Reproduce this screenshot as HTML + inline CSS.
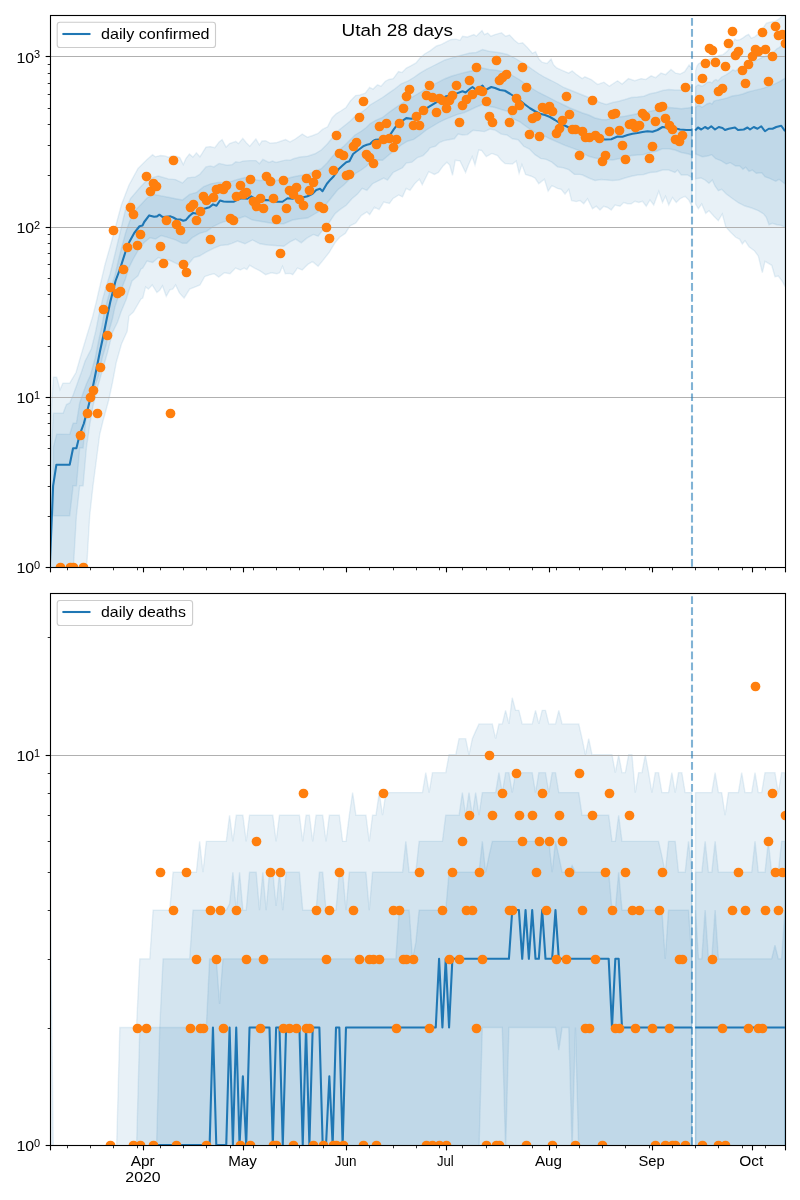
<!DOCTYPE html>
<html><head><meta charset="utf-8"><title>Utah 28 days</title>
<style>html,body{margin:0;padding:0;background:#fff}body{width:800px;height:1200px;overflow:hidden}</style></head>
<body>
<svg width="800" height="1200" viewBox="0 0 800 1200" style="display:block;font-family:'Liberation Sans',sans-serif">
<rect width="800" height="1200" fill="#fff"/>
<defs><clipPath id="ct"><rect x="50" y="15" width="735" height="552"/></clipPath><clipPath id="cb"><rect x="50" y="593" width="735" height="552"/></clipPath></defs>
<g clip-path="url(#ct)">
<polygon points="50.05,431.00 53.40,377.20 56.70,377.20 60.00,389.70 62.90,383.10 69.75,383.10 76.00,372.50 80.00,358.50 86.25,337.50 92.50,317.00 96.25,302.00 99.00,290.00 105.00,264.50 111.00,243.50 116.25,224.00 121.50,204.50 129.00,185.00 138.00,168.50 147.00,159.50 152.60,154.70 155.30,156.80 160.50,155.50 164.90,155.90 168.40,157.20 172.00,156.00 176.00,156.30 179.80,157.60 183.30,164.60 185.90,158.50 189.40,154.10 192.90,157.10 196.40,152.90 199.90,156.80 206.00,147.10 210.40,146.60 214.80,147.70 219.10,141.90 222.10,139.60 226.10,147.10 229.60,143.60 235.80,141.40 238.40,143.60 242.80,138.40 246.30,142.80 249.80,146.30 255.90,138.90 259.40,144.90 262.00,141.00 265.50,140.70 269.90,143.10 276.00,142.80 281.30,141.00 285.60,139.60 290.00,141.90 295.25,139.00 302.25,134.10 307.50,137.25 312.75,135.50 318.00,133.40 322.40,129.40 327.60,126.75 332.00,118.00 336.40,113.60 340.75,111.00 346.00,107.50 350.40,100.85 355.60,95.60 360.00,94.90 365.25,93.15 369.60,87.40 373.10,89.10 377.50,84.75 381.00,86.15 385.40,81.25 388.90,79.50 393.25,78.60 398.50,71.60 402.00,72.50 406.40,68.10 410.75,65.85 416.00,62.90 420.40,57.60 425.00,53.75 430.00,50.80 436.50,46.00 441.40,44.40 446.20,41.90 451.10,39.50 456.00,39.20 460.00,40.30 462.50,36.20 467.40,37.00 473.90,34.60 476.30,36.20 478.70,33.80 482.00,30.60 484.40,34.60 487.70,33.00 490.90,36.20 495.00,34.60 501.50,32.70 505.60,36.20 509.60,35.00 514.50,40.30 518.60,43.60 522.60,42.70 527.50,47.60 532.40,53.30 535.60,51.70 538.90,59.00 542.10,62.20 547.00,63.50 551.10,59.00 553.50,64.70 556.70,67.90 562.25,70.40 568.60,73.10 572.20,70.95 575.85,74.00 582.20,78.60 584.90,76.75 591.25,79.50 597.60,84.40 603.90,82.20 609.40,86.20 617.50,80.75 622.10,84.00 628.40,78.60 634.75,80.75 641.10,78.60 645.60,79.50 651.10,75.85 655.60,77.65 661.00,73.10 665.60,74.60 671.00,69.50 675.50,73.10 680.10,74.00 684.60,71.70 689.10,65.00 691.90,68.60 691.90,206.25 688.75,200.00 685.00,196.25 680.00,198.75 676.25,202.50 672.50,197.50 668.75,205.00 665.50,196.25 662.50,202.50 658.75,191.25 653.75,205.00 650.00,200.00 646.25,206.25 642.50,201.25 638.75,202.50 635.00,201.25 631.25,203.75 627.50,203.75 623.75,202.50 620.00,206.25 615.00,205.00 611.25,210.00 607.50,207.50 603.75,206.25 600.00,210.00 596.25,206.25 592.50,208.75 587.50,198.75 583.75,203.75 580.00,200.60 576.25,201.60 571.60,200.60 568.75,189.40 565.00,194.10 561.25,189.40 557.50,188.40 551.90,185.60 548.10,191.25 544.40,179.10 538.75,183.75 535.00,178.10 531.25,176.25 525.60,174.40 521.90,164.60 519.10,173.40 516.25,160.90 512.50,164.10 505.00,163.50 501.25,160.30 497.50,155.60 491.90,153.40 486.25,156.60 481.60,150.40 478.75,150.00 475.00,165.00 472.20,156.60 468.40,165.00 465.60,172.50 460.00,160.90 455.30,160.30 452.50,175.30 449.70,165.00 446.90,162.20 443.10,165.90 438.40,172.50 434.40,174.40 428.75,171.60 422.20,184.70 419.40,179.10 414.70,183.75 410.00,190.30 406.25,188.40 402.50,196.90 398.75,195.00 393.10,198.40 389.40,203.40 383.75,202.10 379.10,209.60 374.40,207.20 369.70,214.70 366.90,211.90 361.25,215.60 355.60,223.10 350.00,225.90 345.30,233.40 339.70,237.20 335.00,242.80 329.40,252.20 322.80,260.60 318.10,266.25 312.50,261.60 307.80,264.40 302.20,270.00 297.50,268.10 292.80,274.70 290.00,273.40 285.30,273.75 282.50,266.25 279.70,272.80 276.90,273.75 271.25,272.80 265.60,274.70 260.00,270.90 254.40,268.10 249.70,265.30 246.90,269.60 244.10,268.10 240.30,270.00 235.60,268.10 230.00,273.75 224.40,272.80 218.75,277.10 214.10,273.75 210.30,274.70 204.70,276.60 200.00,285.00 195.30,286.90 189.70,289.10 184.10,298.10 179.40,292.90 175.60,285.00 172.80,289.10 170.00,289.70 166.25,296.25 162.50,285.90 159.70,290.25 156.90,292.50 152.20,285.00 148.40,289.10 145.60,286.90 142.80,298.10 141.00,299.00 133.40,312.00 129.00,316.00 127.20,331.20 121.50,344.00 116.25,362.50 112.50,382.50 108.75,400.00 106.30,409.00 103.00,421.00 99.70,434.50 96.40,460.00 93.00,485.80 89.70,515.80 86.40,572.50 50.05,572.50" fill="#1f77b4" fill-opacity="0.1" stroke="#1f77b4" stroke-opacity="0.1" stroke-width="1.39" stroke-linejoin="miter"/>
<polygon points="50.05,469.00 53.40,413.20 63.10,413.30 66.40,404.60 69.70,403.00 73.10,395.00 76.40,386.00 81.25,372.50 85.00,361.25 91.40,348.70 95.70,331.20 98.80,315.50 102.70,298.90 106.20,286.60 110.20,273.50 114.00,258.00 119.50,235.00 125.25,210.50 130.50,198.50 139.50,188.00 147.00,180.00 154.00,177.20 158.40,176.00 168.30,178.90 175.40,179.60 182.50,183.00 187.60,177.80 195.50,176.90 199.90,174.30 206.00,166.90 210.40,165.90 213.90,166.90 219.10,163.40 227.00,165.20 232.30,164.60 235.80,161.70 239.30,162.40 242.80,161.10 249.80,160.60 255.90,160.60 259.40,163.80 262.90,159.40 269.00,162.40 272.50,161.10 276.00,162.40 281.30,161.10 286.50,159.90 290.00,160.30 293.50,158.75 300.00,157.00 307.50,156.25 315.00,153.75 321.25,150.00 327.50,143.75 332.50,137.50 337.50,131.25 343.75,126.25 350.00,121.25 355.00,116.25 361.25,112.50 366.25,108.75 370.00,105.00 376.25,101.25 382.50,97.50 388.75,93.10 395.00,88.75 401.25,83.75 407.50,81.25 413.75,77.50 420.00,73.10 426.25,69.40 432.50,66.25 438.75,63.10 445.00,60.00 451.25,58.10 457.50,56.25 463.75,54.60 470.00,53.00 476.25,52.50 482.50,49.50 488.75,51.25 495.00,52.00 501.25,53.00 507.50,54.50 513.75,57.50 520.00,61.25 526.25,65.00 532.50,69.50 538.75,73.75 545.00,77.50 551.25,80.50 557.50,83.75 563.75,87.50 570.00,90.00 576.25,92.50 582.50,95.00 588.75,97.50 595.00,100.50 601.25,102.80 606.25,104.50 612.50,102.50 618.75,101.25 625.00,99.50 631.25,97.50 637.50,97.00 643.75,96.25 650.00,93.75 656.25,92.50 662.50,90.50 668.75,89.50 675.00,90.00 681.25,90.00 687.50,88.00 691.90,86.25 691.90,177.50 687.50,175.00 681.25,175.00 677.50,170.00 675.00,172.50 668.75,170.00 662.50,170.00 656.25,172.00 650.00,172.50 643.75,174.50 637.50,175.00 631.25,176.25 625.00,178.00 618.75,180.00 612.50,180.50 606.25,180.00 601.25,179.50 595.00,180.50 588.75,178.00 582.50,175.00 580.00,174.40 574.40,174.40 568.75,169.70 563.10,167.80 557.50,166.90 551.90,162.20 546.25,159.40 540.60,158.40 535.00,154.70 529.40,149.10 523.75,146.25 518.10,139.70 512.50,138.75 506.90,135.00 501.25,134.10 495.60,130.30 490.00,129.00 484.40,131.60 478.75,130.90 473.10,130.30 467.50,134.60 462.80,135.00 458.10,134.10 454.40,138.75 448.75,139.70 444.10,140.60 439.40,142.50 435.60,146.25 430.00,147.75 427.80,150.90 423.10,155.60 417.50,157.50 411.90,162.20 406.25,163.10 402.50,167.80 398.75,169.70 393.10,172.50 387.50,180.00 383.75,178.10 378.10,180.90 372.50,183.75 366.90,190.30 362.20,188.40 357.50,194.10 351.90,198.75 346.25,205.30 340.60,209.10 335.00,213.75 329.40,222.20 323.75,228.75 318.10,236.25 313.40,234.40 306.90,238.10 301.25,242.80 295.60,239.10 290.00,241.90 283.75,246.25 275.00,245.50 267.50,245.00 260.00,243.75 252.50,240.00 245.00,243.75 237.50,241.00 232.00,243.30 227.80,244.70 220.70,245.40 213.60,248.30 206.60,251.80 199.50,256.00 193.80,257.50 188.20,264.50 182.50,266.00 175.40,263.10 169.70,260.30 164.00,259.60 158.40,257.50 152.70,262.40 147.00,261.00 142.80,268.00 141.00,269.00 138.00,275.75 132.00,281.00 126.00,300.00 121.00,312.00 117.60,322.00 112.50,332.50 107.50,352.50 102.50,370.00 97.50,387.50 93.00,406.00 89.70,425.00 86.40,448.00 83.10,485.80 79.70,485.80 76.40,515.80 73.10,572.50 50.05,572.50" fill="#1f77b4" fill-opacity="0.1" stroke="#1f77b4" stroke-opacity="0.1" stroke-width="1.39" stroke-linejoin="miter"/>
<polygon points="53.40,447.00 56.70,434.20 69.70,434.40 73.10,423.20 76.40,423.20 79.70,403.00 83.10,393.00 86.40,384.00 90.50,375.00 95.30,357.50 98.80,340.00 101.90,326.00 104.10,313.70 107.10,301.50 110.60,288.80 115.00,275.20 118.00,262.00 121.50,248.00 126.00,231.50 129.75,221.00 135.00,210.50 141.00,204.50 147.00,198.00 154.00,194.50 161.20,195.90 168.30,197.30 175.40,198.70 182.50,200.00 189.60,194.40 196.70,192.30 203.70,186.70 210.80,183.80 217.90,182.40 225.00,182.70 232.00,181.20 237.50,179.50 245.00,177.50 252.50,179.50 260.00,180.50 267.50,180.00 275.00,180.50 283.75,179.50 292.50,177.00 300.00,175.50 307.50,174.50 315.00,171.25 321.25,168.75 327.50,162.50 332.50,156.25 337.50,151.25 343.75,146.25 350.00,140.00 355.00,135.00 361.25,131.25 366.25,127.50 370.00,123.75 376.25,120.00 382.50,117.50 388.75,112.50 395.00,108.10 401.25,103.75 407.50,100.00 413.75,96.25 420.00,92.50 426.25,88.75 432.50,85.00 438.75,81.90 445.00,78.75 451.25,76.25 457.50,74.40 463.75,72.70 470.00,71.25 476.25,70.00 482.50,68.00 488.75,69.50 495.00,70.00 501.25,71.25 507.50,73.00 513.75,76.25 520.00,80.00 526.25,84.50 532.50,88.75 538.75,92.50 545.00,95.50 551.25,98.75 557.50,102.00 563.75,105.00 570.00,108.00 576.25,110.50 582.50,113.00 588.75,115.00 595.00,118.00 601.25,119.50 606.25,119.80 612.50,118.00 618.75,117.00 625.00,116.25 631.25,115.00 637.50,113.75 643.75,113.00 650.00,111.25 656.25,110.00 662.50,108.00 668.75,107.50 675.00,108.00 681.25,108.75 687.50,108.00 691.90,107.50 691.90,155.00 687.50,153.75 681.25,152.50 675.00,150.00 668.75,148.75 662.50,148.75 656.25,151.25 650.00,152.50 643.75,154.50 637.50,155.00 631.25,155.50 625.00,157.50 618.75,158.75 612.50,160.00 606.25,159.70 601.25,159.00 595.00,158.00 588.75,156.25 582.50,153.00 580.00,150.90 572.50,148.10 565.00,145.30 557.50,142.10 550.00,138.75 542.50,135.00 535.00,132.20 527.50,127.50 520.00,121.90 512.50,118.50 507.50,111.25 501.25,109.50 495.00,107.50 488.75,106.25 482.50,104.50 476.25,107.00 470.00,110.00 463.75,112.80 457.50,114.40 451.25,116.90 445.00,119.40 438.75,122.50 432.50,126.25 426.25,130.00 420.00,135.00 413.75,139.40 407.50,141.25 401.25,145.00 395.00,150.00 388.75,155.00 382.50,160.30 376.25,160.00 370.00,162.50 366.25,166.25 361.25,170.00 355.00,173.75 350.00,178.75 343.75,185.00 337.50,190.00 332.50,196.25 327.50,202.50 321.25,210.00 315.00,213.75 307.50,218.00 300.00,218.75 292.50,220.00 283.75,223.75 275.00,223.75 267.50,222.50 260.00,221.25 252.50,220.00 245.00,216.25 237.50,218.75 233.50,220.30 227.80,220.60 220.70,222.80 213.60,226.30 206.60,231.30 199.50,233.40 192.40,237.60 186.70,243.30 182.50,243.30 175.40,239.80 168.30,237.60 161.20,235.50 155.60,239.00 150.00,237.80 144.20,242.50 139.50,248.00 133.50,258.50 128.50,268.50 125.50,278.70 122.00,287.50 118.50,296.20 115.00,306.70 112.40,319.00 108.90,331.20 106.20,344.40 102.30,357.50 98.80,375.00 96.40,382.00 93.00,391.00 89.70,402.00 86.40,415.00 83.10,448.00 79.70,448.00 76.40,485.80 73.10,485.80 69.70,515.80 53.40,515.80" fill="#1f77b4" fill-opacity="0.1" stroke="#1f77b4" stroke-opacity="0.1" stroke-width="1.39" stroke-linejoin="miter"/>
<polygon points="695.55,71.00 697.00,66.00 698.50,63.80 700.75,62.50 704.00,60.60 707.30,59.90 711.25,58.60 715.20,57.30 719.10,55.30 723.10,54.65 727.00,51.40 730.30,47.40 732.90,42.80 734.90,38.90 736.80,40.20 740.10,39.60 743.40,37.60 746.00,35.60 748.60,34.30 751.30,38.20 754.60,36.90 757.80,34.30 760.50,31.00 763.70,27.10 766.40,23.20 769.00,22.50 772.30,21.80 775.50,21.20 778.80,19.20 781.50,16.60 785.10,14.50 785.10,286.70 782.30,281.30 778.30,276.00 775.00,276.70 771.70,265.30 765.00,261.30 762.30,272.70 758.30,256.00 754.30,250.70 749.00,246.70 745.00,240.70 742.30,244.00 739.70,239.30 735.70,237.30 730.30,232.00 725.70,226.70 722.30,214.00 718.30,220.70 713.70,216.00 709.00,210.70 705.70,213.30 701.70,204.00 698.30,208.70 695.55,204.00" fill="#1f77b4" fill-opacity="0.1" stroke="#1f77b4" stroke-opacity="0.1" stroke-width="1.39" stroke-linejoin="miter"/>
<polygon points="695.55,87.00 698.00,84.75 700.00,85.50 702.00,86.25 704.00,85.00 707.00,82.50 710.00,82.00 712.00,83.00 714.00,80.50 716.00,79.50 717.80,80.90 721.75,77.00 725.70,75.00 729.60,72.40 732.90,69.75 735.50,71.00 738.80,68.40 742.75,67.10 746.70,65.15 750.60,63.20 754.60,61.20 758.50,59.25 762.40,57.30 766.40,56.00 770.30,54.00 774.25,51.40 776.90,48.75 779.50,47.40 782.10,44.15 785.10,41.50 785.10,227.30 781.00,225.30 777.00,224.70 772.30,223.30 769.00,224.70 766.30,217.30 763.70,214.00 758.30,210.70 751.70,208.00 745.00,206.00 738.30,202.70 731.70,198.00 726.30,194.00 721.70,189.30 718.30,190.70 715.00,186.00 712.30,180.00 709.00,183.30 705.00,180.00 701.00,178.00 695.55,178.70" fill="#1f77b4" fill-opacity="0.1" stroke="#1f77b4" stroke-opacity="0.1" stroke-width="1.39" stroke-linejoin="miter"/>
<polygon points="695.55,107.50 698.00,105.50 700.00,106.00 702.00,107.25 704.00,106.00 707.00,104.00 710.00,103.00 712.00,104.00 714.00,101.00 716.50,100.40 721.75,99.30 727.00,98.00 732.25,96.00 737.50,95.30 742.75,94.00 748.00,92.00 753.25,90.70 758.50,89.40 763.75,88.10 769.00,86.15 774.25,84.20 779.50,81.55 785.10,78.30 785.10,184.00 779.00,179.30 775.70,181.30 770.30,178.70 765.00,176.70 761.70,172.70 756.30,173.30 752.30,170.00 749.00,171.30 745.70,167.30 743.00,169.30 739.70,166.00 735.70,166.00 730.30,162.70 726.30,164.00 721.00,160.70 715.70,158.70 711.70,154.70 707.70,156.00 702.30,156.70 695.55,154.00" fill="#1f77b4" fill-opacity="0.1" stroke="#1f77b4" stroke-opacity="0.1" stroke-width="1.39" stroke-linejoin="miter"/>
</g>
<line x1="50.5" x2="785.5" y1="397.50" y2="397.50" stroke="#b0b0b0" stroke-width="1.1"/>
<line x1="50.5" x2="785.5" y1="227.50" y2="227.50" stroke="#b0b0b0" stroke-width="1.1"/>
<line x1="50.5" x2="785.5" y1="56.50" y2="56.50" stroke="#b0b0b0" stroke-width="1.1"/>
<g clip-path="url(#ct)">
<polyline points="49.80,567.00 53.10,485.80 56.40,464.70 69.70,464.70 73.05,448.20 76.40,448.20 79.70,434.70 83.75,423.75 87.50,410.00 90.00,400.00 93.75,382.50 96.25,370.00 100.00,351.25 103.75,333.75 106.50,320.00 110.25,302.00 115.50,281.00 120.00,269.00 125.25,252.50 129.30,242.00 134.25,233.00 139.50,226.25 142.50,225.50 144.20,222.00 149.20,215.40 154.20,216.70 157.00,216.40 159.40,214.70 162.70,217.10 166.20,216.70 170.50,216.40 173.30,217.50 176.80,219.50 180.40,219.50 183.20,220.70 186.00,219.90 189.60,215.70 193.10,212.90 196.00,213.60 198.00,212.20 202.30,209.30 205.90,208.30 209.40,207.20 213.00,204.40 216.50,205.80 220.00,200.50 223.60,201.50 227.10,201.80 233.50,201.80 237.70,199.60 241.25,198.25 247.50,198.75 251.25,196.25 255.00,198.75 260.00,200.50 266.25,200.00 271.25,200.50 276.25,201.75 282.50,201.75 287.50,198.25 292.50,198.75 297.50,197.00 302.50,197.50 307.50,196.25 312.50,193.75 316.25,190.00 320.00,188.75 322.50,191.25 326.90,183.75 330.60,179.40 333.75,176.25 338.75,169.00 342.50,165.60 346.25,162.25 349.40,161.25 353.10,154.00 356.25,151.50 360.00,148.75 363.75,145.90 366.90,144.75 370.00,144.00 373.10,140.90 375.60,139.75 378.75,139.50 383.75,139.40 390.00,135.00 393.75,129.40 397.50,124.40 400.00,122.50 406.25,118.10 411.25,118.75 416.25,117.50 422.50,111.25 428.75,106.90 435.00,103.10 441.25,99.40 446.25,96.25 452.50,95.00 457.50,93.10 462.50,91.25 465.60,92.50 470.00,88.75 472.50,87.00 476.25,90.00 482.50,85.50 485.50,90.00 491.25,87.00 495.00,88.00 500.00,90.00 505.00,90.75 510.00,93.75 515.00,97.00 520.00,100.50 525.00,104.50 530.00,108.25 535.00,111.25 540.00,113.75 545.00,115.00 550.00,117.00 555.00,120.00 558.75,122.50 563.75,125.00 568.75,127.50 573.75,129.50 580.00,131.25 585.00,133.75 590.00,135.00 595.00,137.00 600.00,138.50 605.00,139.50 611.25,139.25 617.50,136.50 622.50,136.75 627.50,135.00 632.50,133.75 637.50,133.00 642.50,132.00 647.50,131.25 652.50,131.75 657.50,130.00 662.50,127.00 666.25,127.50 670.00,127.50 675.00,128.25 680.00,129.50 686.25,130.00 691.90,130.00" fill="none" stroke="#1f77b4" stroke-width="2.08" stroke-linejoin="round"/>
<polyline points="695.20,130.50 698.00,127.50 701.25,129.50 705.00,127.00 708.00,128.75 711.25,126.25 715.00,129.50 718.75,127.00 722.50,128.00 725.00,130.00 728.75,128.75 735.00,127.50 738.00,130.00 743.75,129.50 747.50,127.50 750.00,129.50 753.75,127.00 757.50,128.75 761.25,126.25 765.00,131.25 768.75,128.75 772.50,128.75 776.25,127.00 781.25,125.75 785.10,131.25" fill="none" stroke="#1f77b4" stroke-width="2.08" stroke-linejoin="round"/>
<line x1="692.0" x2="692.0" y1="566.7" y2="15.5" stroke="#1f77b4" stroke-opacity="0.56" stroke-width="2.08" stroke-dasharray="7.71 3.33"/>
<circle cx="60.5" cy="567.5" r="4.86" fill="#ff7f0e"/>
<circle cx="70.5" cy="567.5" r="4.86" fill="#ff7f0e"/>
<circle cx="73.5" cy="567.5" r="4.86" fill="#ff7f0e"/>
<circle cx="80.5" cy="435.5" r="4.86" fill="#ff7f0e"/>
<circle cx="83.5" cy="567.5" r="4.86" fill="#ff7f0e"/>
<circle cx="87.5" cy="413.5" r="4.86" fill="#ff7f0e"/>
<circle cx="90.5" cy="397.5" r="4.86" fill="#ff7f0e"/>
<circle cx="93.5" cy="390.5" r="4.86" fill="#ff7f0e"/>
<circle cx="97.5" cy="413.5" r="4.86" fill="#ff7f0e"/>
<circle cx="100.5" cy="367.5" r="4.86" fill="#ff7f0e"/>
<circle cx="103.5" cy="309.5" r="4.86" fill="#ff7f0e"/>
<circle cx="107.5" cy="335.5" r="4.86" fill="#ff7f0e"/>
<circle cx="110.5" cy="287.5" r="4.86" fill="#ff7f0e"/>
<circle cx="113.5" cy="230.5" r="4.86" fill="#ff7f0e"/>
<circle cx="117.5" cy="293.5" r="4.86" fill="#ff7f0e"/>
<circle cx="120.5" cy="291.5" r="4.86" fill="#ff7f0e"/>
<circle cx="123.5" cy="269.5" r="4.86" fill="#ff7f0e"/>
<circle cx="127.5" cy="247.5" r="4.86" fill="#ff7f0e"/>
<circle cx="130.5" cy="207.5" r="4.86" fill="#ff7f0e"/>
<circle cx="133.5" cy="214.5" r="4.86" fill="#ff7f0e"/>
<circle cx="137.5" cy="245.5" r="4.86" fill="#ff7f0e"/>
<circle cx="140.5" cy="234.5" r="4.86" fill="#ff7f0e"/>
<circle cx="146.5" cy="176.5" r="4.86" fill="#ff7f0e"/>
<circle cx="150.5" cy="191.5" r="4.86" fill="#ff7f0e"/>
<circle cx="153.5" cy="183.5" r="4.86" fill="#ff7f0e"/>
<circle cx="156.5" cy="186.5" r="4.86" fill="#ff7f0e"/>
<circle cx="160.5" cy="246.5" r="4.86" fill="#ff7f0e"/>
<circle cx="163.5" cy="263.5" r="4.86" fill="#ff7f0e"/>
<circle cx="166.5" cy="220.5" r="4.86" fill="#ff7f0e"/>
<circle cx="170.5" cy="413.5" r="4.86" fill="#ff7f0e"/>
<circle cx="173.5" cy="160.5" r="4.86" fill="#ff7f0e"/>
<circle cx="176.5" cy="224.5" r="4.86" fill="#ff7f0e"/>
<circle cx="180.5" cy="230.5" r="4.86" fill="#ff7f0e"/>
<circle cx="183.5" cy="264.5" r="4.86" fill="#ff7f0e"/>
<circle cx="186.5" cy="272.5" r="4.86" fill="#ff7f0e"/>
<circle cx="190.5" cy="207.5" r="4.86" fill="#ff7f0e"/>
<circle cx="193.5" cy="204.5" r="4.86" fill="#ff7f0e"/>
<circle cx="196.5" cy="220.5" r="4.86" fill="#ff7f0e"/>
<circle cx="200.5" cy="211.5" r="4.86" fill="#ff7f0e"/>
<circle cx="203.5" cy="196.5" r="4.86" fill="#ff7f0e"/>
<circle cx="206.5" cy="200.5" r="4.86" fill="#ff7f0e"/>
<circle cx="210.5" cy="239.5" r="4.86" fill="#ff7f0e"/>
<circle cx="213.5" cy="197.5" r="4.86" fill="#ff7f0e"/>
<circle cx="216.5" cy="189.5" r="4.86" fill="#ff7f0e"/>
<circle cx="220.5" cy="188.5" r="4.86" fill="#ff7f0e"/>
<circle cx="223.5" cy="189.5" r="4.86" fill="#ff7f0e"/>
<circle cx="226.5" cy="185.5" r="4.86" fill="#ff7f0e"/>
<circle cx="230.5" cy="218.5" r="4.86" fill="#ff7f0e"/>
<circle cx="233.5" cy="220.5" r="4.86" fill="#ff7f0e"/>
<circle cx="236.5" cy="196.5" r="4.86" fill="#ff7f0e"/>
<circle cx="240.5" cy="185.5" r="4.86" fill="#ff7f0e"/>
<circle cx="243.5" cy="194.5" r="4.86" fill="#ff7f0e"/>
<circle cx="246.5" cy="192.5" r="4.86" fill="#ff7f0e"/>
<circle cx="250.5" cy="179.5" r="4.86" fill="#ff7f0e"/>
<circle cx="253.5" cy="201.5" r="4.86" fill="#ff7f0e"/>
<circle cx="256.5" cy="206.5" r="4.86" fill="#ff7f0e"/>
<circle cx="260.5" cy="198.5" r="4.86" fill="#ff7f0e"/>
<circle cx="263.5" cy="208.5" r="4.86" fill="#ff7f0e"/>
<circle cx="266.5" cy="176.5" r="4.86" fill="#ff7f0e"/>
<circle cx="270.5" cy="181.5" r="4.86" fill="#ff7f0e"/>
<circle cx="273.5" cy="198.5" r="4.86" fill="#ff7f0e"/>
<circle cx="276.5" cy="219.5" r="4.86" fill="#ff7f0e"/>
<circle cx="280.5" cy="253.5" r="4.86" fill="#ff7f0e"/>
<circle cx="283.5" cy="180.5" r="4.86" fill="#ff7f0e"/>
<circle cx="286.5" cy="208.5" r="4.86" fill="#ff7f0e"/>
<circle cx="289.5" cy="190.5" r="4.86" fill="#ff7f0e"/>
<circle cx="293.5" cy="194.5" r="4.86" fill="#ff7f0e"/>
<circle cx="296.5" cy="187.5" r="4.86" fill="#ff7f0e"/>
<circle cx="299.5" cy="199.5" r="4.86" fill="#ff7f0e"/>
<circle cx="303.5" cy="205.5" r="4.86" fill="#ff7f0e"/>
<circle cx="306.5" cy="178.5" r="4.86" fill="#ff7f0e"/>
<circle cx="309.5" cy="190.5" r="4.86" fill="#ff7f0e"/>
<circle cx="313.5" cy="182.5" r="4.86" fill="#ff7f0e"/>
<circle cx="316.5" cy="174.5" r="4.86" fill="#ff7f0e"/>
<circle cx="319.5" cy="206.5" r="4.86" fill="#ff7f0e"/>
<circle cx="323.5" cy="208.5" r="4.86" fill="#ff7f0e"/>
<circle cx="326.5" cy="227.5" r="4.86" fill="#ff7f0e"/>
<circle cx="329.5" cy="238.5" r="4.86" fill="#ff7f0e"/>
<circle cx="333.5" cy="170.5" r="4.86" fill="#ff7f0e"/>
<circle cx="336.5" cy="135.5" r="4.86" fill="#ff7f0e"/>
<circle cx="339.5" cy="153.5" r="4.86" fill="#ff7f0e"/>
<circle cx="343.5" cy="155.5" r="4.86" fill="#ff7f0e"/>
<circle cx="346.5" cy="175.5" r="4.86" fill="#ff7f0e"/>
<circle cx="349.5" cy="174.5" r="4.86" fill="#ff7f0e"/>
<circle cx="353.5" cy="146.5" r="4.86" fill="#ff7f0e"/>
<circle cx="356.5" cy="142.5" r="4.86" fill="#ff7f0e"/>
<circle cx="359.5" cy="117.5" r="4.86" fill="#ff7f0e"/>
<circle cx="363.5" cy="101.5" r="4.86" fill="#ff7f0e"/>
<circle cx="366.5" cy="154.5" r="4.86" fill="#ff7f0e"/>
<circle cx="369.5" cy="157.5" r="4.86" fill="#ff7f0e"/>
<circle cx="373.5" cy="163.5" r="4.86" fill="#ff7f0e"/>
<circle cx="376.5" cy="144.5" r="4.86" fill="#ff7f0e"/>
<circle cx="379.5" cy="126.5" r="4.86" fill="#ff7f0e"/>
<circle cx="383.5" cy="139.5" r="4.86" fill="#ff7f0e"/>
<circle cx="386.5" cy="123.5" r="4.86" fill="#ff7f0e"/>
<circle cx="389.5" cy="138.5" r="4.86" fill="#ff7f0e"/>
<circle cx="393.5" cy="147.5" r="4.86" fill="#ff7f0e"/>
<circle cx="396.5" cy="139.5" r="4.86" fill="#ff7f0e"/>
<circle cx="399.5" cy="123.5" r="4.86" fill="#ff7f0e"/>
<circle cx="403.5" cy="108.5" r="4.86" fill="#ff7f0e"/>
<circle cx="406.5" cy="96.5" r="4.86" fill="#ff7f0e"/>
<circle cx="409.5" cy="89.5" r="4.86" fill="#ff7f0e"/>
<circle cx="413.5" cy="125.5" r="4.86" fill="#ff7f0e"/>
<circle cx="416.5" cy="116.5" r="4.86" fill="#ff7f0e"/>
<circle cx="419.5" cy="125.5" r="4.86" fill="#ff7f0e"/>
<circle cx="423.5" cy="110.5" r="4.86" fill="#ff7f0e"/>
<circle cx="426.5" cy="95.5" r="4.86" fill="#ff7f0e"/>
<circle cx="429.5" cy="85.5" r="4.86" fill="#ff7f0e"/>
<circle cx="432.5" cy="97.5" r="4.86" fill="#ff7f0e"/>
<circle cx="436.5" cy="112.5" r="4.86" fill="#ff7f0e"/>
<circle cx="439.5" cy="98.5" r="4.86" fill="#ff7f0e"/>
<circle cx="442.5" cy="100.5" r="4.86" fill="#ff7f0e"/>
<circle cx="446.5" cy="108.5" r="4.86" fill="#ff7f0e"/>
<circle cx="449.5" cy="100.5" r="4.86" fill="#ff7f0e"/>
<circle cx="452.5" cy="95.5" r="4.86" fill="#ff7f0e"/>
<circle cx="456.5" cy="85.5" r="4.86" fill="#ff7f0e"/>
<circle cx="459.5" cy="122.5" r="4.86" fill="#ff7f0e"/>
<circle cx="462.5" cy="105.5" r="4.86" fill="#ff7f0e"/>
<circle cx="466.5" cy="99.5" r="4.86" fill="#ff7f0e"/>
<circle cx="469.5" cy="80.5" r="4.86" fill="#ff7f0e"/>
<circle cx="472.5" cy="94.5" r="4.86" fill="#ff7f0e"/>
<circle cx="476.5" cy="67.5" r="4.86" fill="#ff7f0e"/>
<circle cx="479.5" cy="90.5" r="4.86" fill="#ff7f0e"/>
<circle cx="482.5" cy="91.5" r="4.86" fill="#ff7f0e"/>
<circle cx="486.5" cy="101.5" r="4.86" fill="#ff7f0e"/>
<circle cx="489.5" cy="116.5" r="4.86" fill="#ff7f0e"/>
<circle cx="492.5" cy="122.5" r="4.86" fill="#ff7f0e"/>
<circle cx="496.5" cy="60.5" r="4.86" fill="#ff7f0e"/>
<circle cx="499.5" cy="80.5" r="4.86" fill="#ff7f0e"/>
<circle cx="502.5" cy="77.5" r="4.86" fill="#ff7f0e"/>
<circle cx="506.5" cy="74.5" r="4.86" fill="#ff7f0e"/>
<circle cx="509.5" cy="122.5" r="4.86" fill="#ff7f0e"/>
<circle cx="512.5" cy="110.5" r="4.86" fill="#ff7f0e"/>
<circle cx="516.5" cy="98.5" r="4.86" fill="#ff7f0e"/>
<circle cx="519.5" cy="105.5" r="4.86" fill="#ff7f0e"/>
<circle cx="522.5" cy="67.5" r="4.86" fill="#ff7f0e"/>
<circle cx="526.5" cy="87.5" r="4.86" fill="#ff7f0e"/>
<circle cx="529.5" cy="134.5" r="4.86" fill="#ff7f0e"/>
<circle cx="532.5" cy="118.5" r="4.86" fill="#ff7f0e"/>
<circle cx="536.5" cy="116.5" r="4.86" fill="#ff7f0e"/>
<circle cx="539.5" cy="136.5" r="4.86" fill="#ff7f0e"/>
<circle cx="542.5" cy="107.5" r="4.86" fill="#ff7f0e"/>
<circle cx="546.5" cy="109.5" r="4.86" fill="#ff7f0e"/>
<circle cx="549.5" cy="106.5" r="4.86" fill="#ff7f0e"/>
<circle cx="552.5" cy="111.5" r="4.86" fill="#ff7f0e"/>
<circle cx="556.5" cy="133.5" r="4.86" fill="#ff7f0e"/>
<circle cx="559.5" cy="128.5" r="4.86" fill="#ff7f0e"/>
<circle cx="562.5" cy="120.5" r="4.86" fill="#ff7f0e"/>
<circle cx="566.5" cy="96.5" r="4.86" fill="#ff7f0e"/>
<circle cx="569.5" cy="114.5" r="4.86" fill="#ff7f0e"/>
<circle cx="572.5" cy="129.5" r="4.86" fill="#ff7f0e"/>
<circle cx="575.5" cy="129.5" r="4.86" fill="#ff7f0e"/>
<circle cx="579.5" cy="155.5" r="4.86" fill="#ff7f0e"/>
<circle cx="582.5" cy="131.5" r="4.86" fill="#ff7f0e"/>
<circle cx="585.5" cy="137.5" r="4.86" fill="#ff7f0e"/>
<circle cx="589.5" cy="137.5" r="4.86" fill="#ff7f0e"/>
<circle cx="592.5" cy="100.5" r="4.86" fill="#ff7f0e"/>
<circle cx="595.5" cy="135.5" r="4.86" fill="#ff7f0e"/>
<circle cx="599.5" cy="138.5" r="4.86" fill="#ff7f0e"/>
<circle cx="602.5" cy="161.5" r="4.86" fill="#ff7f0e"/>
<circle cx="605.5" cy="155.5" r="4.86" fill="#ff7f0e"/>
<circle cx="609.5" cy="131.5" r="4.86" fill="#ff7f0e"/>
<circle cx="612.5" cy="114.5" r="4.86" fill="#ff7f0e"/>
<circle cx="615.5" cy="113.5" r="4.86" fill="#ff7f0e"/>
<circle cx="619.5" cy="130.5" r="4.86" fill="#ff7f0e"/>
<circle cx="622.5" cy="145.5" r="4.86" fill="#ff7f0e"/>
<circle cx="625.5" cy="159.5" r="4.86" fill="#ff7f0e"/>
<circle cx="629.5" cy="124.5" r="4.86" fill="#ff7f0e"/>
<circle cx="632.5" cy="123.5" r="4.86" fill="#ff7f0e"/>
<circle cx="635.5" cy="127.5" r="4.86" fill="#ff7f0e"/>
<circle cx="639.5" cy="125.5" r="4.86" fill="#ff7f0e"/>
<circle cx="642.5" cy="113.5" r="4.86" fill="#ff7f0e"/>
<circle cx="645.5" cy="116.5" r="4.86" fill="#ff7f0e"/>
<circle cx="649.5" cy="158.5" r="4.86" fill="#ff7f0e"/>
<circle cx="652.5" cy="146.5" r="4.86" fill="#ff7f0e"/>
<circle cx="655.5" cy="121.5" r="4.86" fill="#ff7f0e"/>
<circle cx="659.5" cy="107.5" r="4.86" fill="#ff7f0e"/>
<circle cx="662.5" cy="106.5" r="4.86" fill="#ff7f0e"/>
<circle cx="665.5" cy="118.5" r="4.86" fill="#ff7f0e"/>
<circle cx="669.5" cy="125.5" r="4.86" fill="#ff7f0e"/>
<circle cx="672.5" cy="129.5" r="4.86" fill="#ff7f0e"/>
<circle cx="675.5" cy="139.5" r="4.86" fill="#ff7f0e"/>
<circle cx="679.5" cy="141.5" r="4.86" fill="#ff7f0e"/>
<circle cx="682.5" cy="135.5" r="4.86" fill="#ff7f0e"/>
<circle cx="685.5" cy="87.5" r="4.86" fill="#ff7f0e"/>
<circle cx="699.5" cy="99.5" r="4.86" fill="#ff7f0e"/>
<circle cx="702.5" cy="78.5" r="4.86" fill="#ff7f0e"/>
<circle cx="705.5" cy="63.5" r="4.86" fill="#ff7f0e"/>
<circle cx="709.5" cy="48.5" r="4.86" fill="#ff7f0e"/>
<circle cx="712.5" cy="50.5" r="4.86" fill="#ff7f0e"/>
<circle cx="715.5" cy="62.5" r="4.86" fill="#ff7f0e"/>
<circle cx="718.5" cy="91.5" r="4.86" fill="#ff7f0e"/>
<circle cx="722.5" cy="88.5" r="4.86" fill="#ff7f0e"/>
<circle cx="725.5" cy="66.5" r="4.86" fill="#ff7f0e"/>
<circle cx="728.5" cy="43.5" r="4.86" fill="#ff7f0e"/>
<circle cx="732.5" cy="31.5" r="4.86" fill="#ff7f0e"/>
<circle cx="735.5" cy="55.5" r="4.86" fill="#ff7f0e"/>
<circle cx="738.5" cy="51.5" r="4.86" fill="#ff7f0e"/>
<circle cx="742.5" cy="70.5" r="4.86" fill="#ff7f0e"/>
<circle cx="745.5" cy="83.5" r="4.86" fill="#ff7f0e"/>
<circle cx="748.5" cy="64.5" r="4.86" fill="#ff7f0e"/>
<circle cx="752.5" cy="56.5" r="4.86" fill="#ff7f0e"/>
<circle cx="755.5" cy="49.5" r="4.86" fill="#ff7f0e"/>
<circle cx="758.5" cy="51.5" r="4.86" fill="#ff7f0e"/>
<circle cx="762.5" cy="32.5" r="4.86" fill="#ff7f0e"/>
<circle cx="765.5" cy="49.5" r="4.86" fill="#ff7f0e"/>
<circle cx="768.5" cy="81.5" r="4.86" fill="#ff7f0e"/>
<circle cx="772.5" cy="56.5" r="4.86" fill="#ff7f0e"/>
<circle cx="775.5" cy="26.5" r="4.86" fill="#ff7f0e"/>
<circle cx="778.5" cy="35.5" r="4.86" fill="#ff7f0e"/>
<circle cx="782.5" cy="34.5" r="4.86" fill="#ff7f0e"/>
<circle cx="785.5" cy="43.5" r="4.86" fill="#ff7f0e"/>
</g>
<g clip-path="url(#cb)">
<polygon points="50.00,872.26 53.33,1150.50 56.65,1150.50 59.98,1150.50 63.30,1150.50 66.63,1150.50 69.95,1150.50 73.28,1150.50 76.60,1150.50 79.93,1150.50 83.25,1150.50 86.58,1150.50 89.91,1150.50 93.23,1150.50 96.56,1150.50 99.88,1150.50 103.21,1150.50 106.53,1150.50 109.86,1150.50 113.18,1150.50 116.51,1150.50 119.84,1027.54 123.16,1027.54 126.49,1027.54 129.81,1027.54 133.14,1027.54 136.46,1027.54 139.79,958.83 143.11,958.83 146.44,958.83 149.76,958.83 153.09,910.08 156.42,910.08 159.74,910.08 163.07,910.08 166.39,910.08 169.72,910.08 173.04,872.26 176.37,872.26 179.69,872.26 183.02,872.26 186.35,872.26 189.67,872.26 193.00,872.26 196.32,872.26 199.65,841.37 202.97,872.26 206.30,841.37 209.62,841.37 212.95,841.37 216.28,841.37 219.60,841.37 222.93,841.37 226.25,841.37 229.58,815.24 232.90,841.37 236.23,815.24 239.55,815.24 242.88,815.24 246.20,841.37 249.53,815.24 252.86,815.24 256.18,815.24 259.51,815.24 262.83,815.24 266.16,815.24 269.48,815.24 272.81,815.24 276.13,841.37 279.46,815.24 282.78,815.24 286.11,815.24 289.44,815.24 292.76,815.24 296.09,815.24 299.41,815.24 302.74,841.37 306.06,815.24 309.39,815.24 312.71,841.37 316.04,815.24 319.37,815.24 322.69,815.24 326.02,841.37 329.34,815.24 332.67,815.24 335.99,815.24 339.32,815.24 342.64,841.37 345.97,841.37 349.30,815.24 352.62,792.61 355.95,815.24 359.27,815.24 362.60,815.24 365.92,815.24 369.25,841.37 372.57,815.24 375.90,815.24 379.22,792.61 382.55,815.24 385.88,792.61 389.20,792.61 392.53,792.61 395.85,792.61 399.18,792.61 402.50,792.61 405.83,792.61 409.15,792.61 412.48,792.61 415.81,792.61 419.13,792.61 422.46,792.61 425.78,772.65 429.11,792.61 432.43,772.65 435.76,772.65 439.08,772.65 442.41,772.65 445.73,772.65 449.06,754.80 452.39,754.80 455.71,754.80 459.04,738.65 462.36,738.65 465.69,738.65 469.01,754.80 472.34,738.65 475.66,731.12 478.99,723.90 482.31,723.90 485.64,723.90 488.97,723.90 492.29,723.90 495.62,738.65 498.94,723.90 502.27,723.90 505.59,710.34 508.92,723.90 512.24,697.78 515.57,710.34 518.90,710.34 522.22,723.90 525.55,723.90 528.87,723.90 532.20,723.90 535.52,710.34 538.85,723.90 542.17,710.34 545.50,710.34 548.83,723.90 552.15,723.90 555.48,723.90 558.80,710.34 562.13,723.90 565.45,723.90 568.78,723.90 572.10,723.90 575.43,723.90 578.75,723.90 582.08,738.65 585.41,754.80 588.73,738.65 592.06,754.80 595.38,754.80 598.71,754.80 602.03,754.80 605.36,754.80 608.68,754.80 612.01,754.80 615.34,772.65 618.66,754.80 621.99,772.65 625.31,772.65 628.64,754.80 631.96,754.80 635.29,792.61 638.61,772.65 641.94,772.65 645.26,754.80 648.59,772.65 651.92,792.61 655.24,772.65 658.57,772.65 661.89,792.61 665.22,792.61 668.54,792.61 671.87,772.65 675.19,792.61 678.52,772.65 681.85,772.65 685.17,792.61 688.50,792.61 691.82,792.61 691.82,1150.50 50.00,1150.50" fill="#1f77b4" fill-opacity="0.1" stroke="#1f77b4" stroke-opacity="0.1" stroke-width="1.39" stroke-linejoin="miter"/>
<polygon points="50.00,1150.50 53.33,1150.50 56.65,1150.50 59.98,1150.50 63.30,1150.50 66.63,1150.50 69.95,1150.50 73.28,1150.50 76.60,1150.50 79.93,1150.50 83.25,1150.50 86.58,1150.50 89.91,1150.50 93.23,1150.50 96.56,1150.50 99.88,1150.50 103.21,1150.50 106.53,1150.50 109.86,1150.50 113.18,1150.50 116.51,1150.50 119.84,1150.50 123.16,1150.50 126.49,1150.50 129.81,1150.50 133.14,1150.50 136.46,1150.50 139.79,1027.54 143.11,1027.54 146.44,1027.54 149.76,1027.54 153.09,1027.54 156.42,1027.54 159.74,1027.54 163.07,958.83 166.39,958.83 169.72,958.83 173.04,958.83 176.37,958.83 179.69,958.83 183.02,958.83 186.35,958.83 189.67,958.83 193.00,910.08 196.32,910.08 199.65,910.08 202.97,910.08 206.30,910.08 209.62,910.08 212.95,910.08 216.28,910.08 219.60,910.08 222.93,910.08 226.25,910.08 229.58,903.84 232.90,872.26 236.23,910.08 239.55,872.26 242.88,910.08 246.20,910.08 249.53,872.26 252.86,872.26 256.18,872.26 259.51,910.08 262.83,872.26 266.16,910.08 269.48,872.26 272.81,872.26 276.13,905.89 279.46,872.26 282.78,910.08 286.11,872.26 289.44,872.26 292.76,872.26 296.09,872.26 299.41,872.26 302.74,910.08 306.06,910.08 309.39,910.08 312.71,910.08 316.04,910.08 319.37,872.26 322.69,872.26 326.02,910.08 329.34,910.08 332.67,910.08 335.99,910.08 339.32,872.26 342.64,872.26 345.97,910.08 349.30,872.26 352.62,872.26 355.95,872.26 359.27,872.26 362.60,872.26 365.92,872.26 369.25,910.08 372.57,872.26 375.90,872.26 379.22,872.26 382.55,872.26 385.88,872.26 389.20,872.26 392.53,872.26 395.85,872.26 399.18,872.26 402.50,872.26 405.83,841.37 409.15,872.26 412.48,872.26 415.81,872.26 419.13,841.37 422.46,841.37 425.78,841.37 429.11,841.37 432.43,841.37 435.76,841.37 439.08,841.37 442.41,841.37 445.73,815.24 449.06,815.24 452.39,815.24 455.71,815.24 459.04,815.24 462.36,792.61 465.69,815.24 469.01,792.61 472.34,815.24 475.66,792.61 478.99,815.24 482.31,792.61 485.64,792.61 488.97,792.61 492.29,792.61 495.62,792.61 498.94,772.65 502.27,792.61 505.59,772.65 508.92,772.65 512.24,792.61 515.57,772.65 518.90,772.65 522.22,772.65 525.55,772.65 528.87,772.65 532.20,772.65 535.52,792.61 538.85,772.65 542.17,772.65 545.50,772.65 548.83,792.61 552.15,772.65 555.48,772.65 558.80,792.61 562.13,792.61 565.45,792.61 568.78,792.61 572.10,792.61 575.43,792.61 578.75,792.61 582.08,815.24 585.41,815.24 588.73,815.24 592.06,815.24 595.38,815.24 598.71,815.24 602.03,815.24 605.36,815.24 608.68,815.24 612.01,841.37 615.34,841.37 618.66,815.24 621.99,841.37 625.31,841.37 628.64,841.37 631.96,841.37 635.29,841.37 638.61,841.37 641.94,841.37 645.26,841.37 648.59,841.37 651.92,841.37 655.24,841.37 658.57,841.37 661.89,856.11 665.22,872.26 668.54,841.37 671.87,841.37 675.19,841.37 678.52,872.26 681.85,872.26 685.17,872.26 688.50,841.37 691.82,872.26 691.82,1150.50 50.00,1150.50" fill="#1f77b4" fill-opacity="0.1" stroke="#1f77b4" stroke-opacity="0.1" stroke-width="1.39" stroke-linejoin="miter"/>
<polygon points="50.00,1150.50 53.33,1150.50 56.65,1150.50 59.98,1150.50 63.30,1150.50 66.63,1150.50 69.95,1150.50 73.28,1150.50 76.60,1150.50 79.93,1150.50 83.25,1150.50 86.58,1150.50 89.91,1150.50 93.23,1150.50 96.56,1150.50 99.88,1150.50 103.21,1150.50 106.53,1150.50 109.86,1150.50 113.18,1150.50 116.51,1150.50 119.84,1150.50 123.16,1150.50 126.49,1150.50 129.81,1150.50 133.14,1150.50 136.46,1150.50 139.79,1150.50 143.11,1150.50 146.44,1150.50 149.76,1150.50 153.09,1150.50 156.42,1150.50 159.74,1027.54 163.07,1027.54 166.39,1027.54 169.72,1027.54 173.04,1027.54 176.37,1027.54 179.69,1027.54 183.02,1027.54 186.35,1027.54 189.67,1027.54 193.00,1027.54 196.32,1027.54 199.65,1027.54 202.97,1027.54 206.30,1027.54 209.62,958.83 212.95,958.83 216.28,958.83 219.60,1003.85 222.93,958.83 226.25,958.83 229.58,958.83 232.90,958.83 236.23,958.83 239.55,958.83 242.88,958.83 246.20,958.83 249.53,958.83 252.86,958.83 256.18,958.83 259.51,958.83 262.83,958.83 266.16,958.83 269.48,958.83 272.81,958.83 276.13,958.83 279.46,958.83 282.78,958.83 286.11,958.83 289.44,958.83 292.76,958.83 296.09,958.83 299.41,958.83 302.74,958.83 306.06,958.83 309.39,958.83 312.71,958.83 316.04,958.83 319.37,958.83 322.69,958.83 326.02,958.83 329.34,958.83 332.67,958.83 335.99,958.83 339.32,958.83 342.64,958.83 345.97,958.83 349.30,958.83 352.62,958.83 355.95,958.83 359.27,958.83 362.60,958.83 365.92,958.83 369.25,958.83 372.57,958.83 375.90,958.83 379.22,958.83 382.55,958.83 385.88,958.83 389.20,958.83 392.53,958.83 395.85,958.83 399.18,910.08 402.50,910.08 405.83,910.08 409.15,910.08 412.48,958.83 415.81,942.68 419.13,910.08 422.46,910.08 425.78,910.08 429.11,910.08 432.43,910.08 435.76,910.08 439.08,910.08 442.41,910.08 445.73,910.08 449.06,872.26 452.39,872.26 455.71,872.26 459.04,872.26 462.36,872.26 465.69,872.26 469.01,872.26 472.34,872.26 475.66,872.26 478.99,872.26 482.31,841.37 485.64,872.26 488.97,856.11 492.29,841.37 495.62,841.37 498.94,841.37 502.27,841.37 505.59,841.37 508.92,841.37 512.24,841.37 515.57,841.37 518.90,841.37 522.22,841.37 525.55,841.37 528.87,841.37 532.20,841.37 535.52,841.37 538.85,841.37 542.17,841.37 545.50,841.37 548.83,841.37 552.15,872.26 555.48,841.37 558.80,856.11 562.13,872.26 565.45,872.26 568.78,872.26 572.10,865.62 575.43,872.26 578.75,872.26 582.08,872.26 585.41,872.26 588.73,872.26 592.06,872.26 595.38,872.26 598.71,872.26 602.03,872.26 605.36,872.26 608.68,872.26 612.01,910.08 615.34,910.08 618.66,872.26 621.99,910.08 625.31,910.08 628.64,910.08 631.96,910.08 635.29,910.08 638.61,910.08 641.94,910.08 645.26,910.08 648.59,910.08 651.92,910.08 655.24,910.08 658.57,910.08 661.89,910.08 665.22,958.83 668.54,910.08 671.87,910.08 675.19,910.08 678.52,910.08 681.85,910.08 685.17,910.08 688.50,910.08 691.82,958.83 691.82,1150.50 688.50,1150.50 685.17,1150.50 681.85,1150.50 678.52,1150.50 675.19,1150.50 671.87,1150.50 668.54,1150.50 665.22,1150.50 661.89,1150.50 658.57,1150.50 655.24,1150.50 651.92,1150.50 648.59,1150.50 645.26,1150.50 641.94,1150.50 638.61,1150.50 635.29,1150.50 631.96,1150.50 628.64,1150.50 625.31,1150.50 621.99,1150.50 618.66,1150.50 615.34,1150.50 612.01,1150.50 608.68,1150.50 605.36,1150.50 602.03,1150.50 598.71,1150.50 595.38,1150.50 592.06,1150.50 588.73,1150.50 585.41,1150.50 582.08,1150.50 578.75,1150.50 575.43,1027.54 572.10,1150.50 568.78,1027.54 565.45,1027.54 562.13,1027.54 558.80,1050.17 555.48,1027.54 552.15,1027.54 548.83,1027.54 545.50,1027.54 542.17,1027.54 538.85,1027.54 535.52,1027.54 532.20,1027.54 528.87,1027.54 525.55,1027.54 522.22,1027.54 518.90,1027.54 515.57,1027.54 512.24,1027.54 508.92,1027.54 505.59,1150.50 502.27,1027.54 498.94,1027.54 495.62,1027.54 492.29,1027.54 488.97,1027.54 485.64,1027.54 482.31,1027.54 478.99,1150.50 475.66,1150.50 472.34,1150.50 469.01,1150.50 465.69,1150.50 462.36,1150.50 459.04,1150.50 455.71,1150.50 452.39,1150.50 449.06,1150.50 445.73,1150.50 442.41,1150.50 439.08,1150.50 435.76,1150.50 432.43,1150.50 429.11,1150.50 425.78,1150.50 422.46,1150.50 419.13,1150.50 415.81,1150.50 412.48,1150.50 409.15,1150.50 405.83,1150.50 402.50,1150.50 399.18,1150.50 395.85,1150.50 392.53,1150.50 389.20,1150.50 385.88,1150.50 382.55,1150.50 379.22,1150.50 375.90,1150.50 372.57,1150.50 369.25,1150.50 365.92,1150.50 362.60,1150.50 359.27,1150.50 355.95,1150.50 352.62,1150.50 349.30,1150.50 345.97,1150.50 342.64,1150.50 339.32,1150.50 335.99,1150.50 332.67,1150.50 329.34,1150.50 326.02,1150.50 322.69,1150.50 319.37,1150.50 316.04,1150.50 312.71,1150.50 309.39,1150.50 306.06,1150.50 302.74,1150.50 299.41,1150.50 296.09,1150.50 292.76,1150.50 289.44,1150.50 286.11,1150.50 282.78,1150.50 279.46,1150.50 276.13,1150.50 272.81,1150.50 269.48,1150.50 266.16,1150.50 262.83,1150.50 259.51,1150.50 256.18,1150.50 252.86,1150.50 249.53,1150.50 246.20,1150.50 242.88,1150.50 239.55,1150.50 236.23,1150.50 232.90,1150.50 229.58,1150.50 226.25,1150.50 222.93,1150.50 219.60,1150.50 216.28,1150.50 212.95,1150.50 209.62,1150.50 206.30,1150.50 202.97,1150.50 199.65,1150.50 196.32,1150.50 193.00,1150.50 189.67,1150.50 186.35,1150.50 183.02,1150.50 179.69,1150.50 176.37,1150.50 173.04,1150.50 169.72,1150.50 166.39,1150.50 163.07,1150.50 159.74,1150.50 156.42,1150.50 153.09,1150.50 149.76,1150.50 146.44,1150.50 143.11,1150.50 139.79,1150.50 136.46,1150.50 133.14,1150.50 129.81,1150.50 126.49,1150.50 123.16,1150.50 119.84,1150.50 116.51,1150.50 113.18,1150.50 109.86,1150.50 106.53,1150.50 103.21,1150.50 99.88,1150.50 96.56,1150.50 93.23,1150.50 89.91,1150.50 86.58,1150.50 83.25,1150.50 79.93,1150.50 76.60,1150.50 73.28,1150.50 69.95,1150.50 66.63,1150.50 63.30,1150.50 59.98,1150.50 56.65,1150.50 53.33,1150.50 50.00,1150.50" fill="#1f77b4" fill-opacity="0.1" stroke="#1f77b4" stroke-opacity="0.1" stroke-width="1.39" stroke-linejoin="miter"/>
<polygon points="695.50,792.61 698.47,792.61 701.80,792.61 705.12,792.61 708.45,792.61 711.77,792.61 715.10,772.65 718.43,792.61 721.75,792.61 725.08,815.24 728.40,792.61 731.73,792.61 735.05,792.61 738.38,792.61 741.70,772.65 745.03,792.61 748.36,792.61 751.68,792.61 755.01,772.65 758.33,792.61 761.66,792.61 764.98,772.65 768.31,772.65 771.63,772.65 774.96,772.65 778.28,792.61 781.61,772.65 784.94,772.65 784.94,1150.50 695.50,1150.50" fill="#1f77b4" fill-opacity="0.1" stroke="#1f77b4" stroke-opacity="0.1" stroke-width="1.39" stroke-linejoin="miter"/>
<polygon points="695.50,872.26 698.47,872.26 701.80,872.26 705.12,841.37 708.45,872.26 711.77,872.26 715.10,841.37 718.43,872.26 721.75,872.26 725.08,872.26 728.40,872.26 731.73,872.26 735.05,872.26 738.38,872.26 741.70,872.26 745.03,872.26 748.36,872.26 751.68,872.26 755.01,841.37 758.33,872.26 761.66,872.26 764.98,872.26 768.31,841.37 771.63,872.26 774.96,872.26 778.28,872.26 781.61,841.37 784.94,841.37 784.94,1150.50 695.50,1150.50" fill="#1f77b4" fill-opacity="0.1" stroke="#1f77b4" stroke-opacity="0.1" stroke-width="1.39" stroke-linejoin="miter"/>
<polygon points="695.50,910.08 698.47,958.83 701.80,958.83 705.12,910.08 708.45,958.83 711.77,958.83 715.10,910.08 718.43,958.83 721.75,958.83 725.08,958.83 728.40,958.83 731.73,958.83 735.05,958.83 738.38,958.83 741.70,958.83 745.03,958.83 748.36,958.83 751.68,958.83 755.01,958.83 758.33,958.83 761.66,958.83 764.98,958.83 768.31,958.83 771.63,958.83 774.96,945.26 778.28,958.83 781.61,958.83 784.94,910.08 784.94,1150.50 781.61,1150.50 778.28,1150.50 774.96,1150.50 771.63,1150.50 768.31,1150.50 764.98,1150.50 761.66,1150.50 758.33,1150.50 755.01,1150.50 751.68,1150.50 748.36,1150.50 745.03,1150.50 741.70,1150.50 738.38,1150.50 735.05,1150.50 731.73,1150.50 728.40,1150.50 725.08,1150.50 721.75,1150.50 718.43,1150.50 715.10,1150.50 711.77,1150.50 708.45,1150.50 705.12,1150.50 701.80,1150.50 698.47,1150.50 695.50,1150.50" fill="#1f77b4" fill-opacity="0.1" stroke="#1f77b4" stroke-opacity="0.1" stroke-width="1.39" stroke-linejoin="miter"/>
</g>
<line x1="50.5" x2="785.5" y1="755.50" y2="755.50" stroke="#b0b0b0" stroke-width="1.1"/>
<g clip-path="url(#cb)">
<polyline points="157.75,1145.00 159.74,1145.00 163.07,1145.00 166.39,1145.00 169.72,1145.00 173.04,1145.00 176.37,1145.00 179.69,1145.00 183.02,1145.00 186.35,1145.00 189.67,1145.00 193.00,1145.00 196.32,1145.00 199.65,1145.00 202.97,1145.00 206.30,1145.00 209.62,1145.00 212.95,1027.54 216.28,1145.00 219.60,1145.00 222.93,1145.00 226.25,1145.00 229.58,1027.54 232.90,1145.00 236.23,1027.54 239.55,1145.00 242.88,1076.29 246.20,1145.00 249.53,1027.54 252.86,1027.54 256.18,1027.54 259.51,1027.54 262.83,1027.54 266.16,1027.54 269.48,1027.54 272.81,1145.00 276.13,1027.54 279.46,1027.54 282.78,1145.00 286.11,1027.54 289.44,1027.54 292.76,1027.54 296.09,1027.54 299.41,1027.54 302.74,1145.00 306.06,1027.54 309.39,1145.00 312.71,1027.54 316.04,1027.54 319.37,1027.54 322.69,1145.00 326.02,1145.00 329.34,1076.29 332.67,1145.00 335.99,1027.54 339.32,1027.54 342.64,1145.00 345.97,1027.54 349.30,1027.54 352.62,1027.54 355.95,1027.54 359.27,1027.54 362.60,1027.54 365.92,1027.54 369.25,1027.54 372.57,1027.54 375.90,1027.54 379.22,1027.54 382.55,1027.54 385.88,1027.54 389.20,1027.54 392.53,1027.54 395.85,1027.54 399.18,1027.54 402.50,1027.54 405.83,1027.54 409.15,1027.54 412.48,1027.54 415.81,1027.54 419.13,1027.54 422.46,1027.54 425.78,1027.54 429.11,1027.54 432.43,1027.54 435.76,1027.54 439.08,958.83 442.41,1027.54 445.73,958.83 449.06,1027.54 452.39,958.83 455.71,958.83 459.04,958.83 462.36,958.83 465.69,958.83 469.01,958.83 472.34,958.83 475.66,958.83 478.99,958.83 482.31,958.83 485.64,958.83 488.97,958.83 492.29,958.83 495.62,958.83 498.94,958.83 502.27,958.83 505.59,958.83 508.92,958.83 512.24,910.08 515.57,910.08 518.90,910.08 522.22,958.83 525.55,910.08 528.87,958.83 532.20,910.08 535.52,958.83 538.85,958.83 542.17,910.08 545.50,958.83 548.83,958.83 552.15,958.83 555.48,910.08 558.80,958.83 562.13,958.83 565.45,958.83 568.78,958.83 572.10,958.83 575.43,958.83 578.75,958.83 582.08,958.83 585.41,958.83 588.73,958.83 592.06,958.83 595.38,958.83 598.71,958.83 602.03,958.83 605.36,958.83 608.68,958.83 612.01,1027.54 615.34,958.83 618.66,958.83 621.99,1027.54 625.31,1027.54 628.64,1027.54 631.96,1027.54 635.29,1027.54 638.61,1027.54 641.94,1027.54 645.26,1027.54 648.59,1027.54 651.92,1027.54 655.24,1027.54 658.57,1027.54 661.89,1027.54 665.22,1027.54 668.54,1027.54 671.87,1027.54 675.19,1027.54 678.52,1027.54 681.85,1027.54 685.17,1027.54 688.50,1027.54 691.82,1027.54" fill="none" stroke="#1f77b4" stroke-width="2.08" stroke-linejoin="round"/>
<polyline points="695.15,1027.54 698.47,1027.54 701.80,1027.54 705.12,1027.54 708.45,1027.54 711.77,1027.54 715.10,1027.54 718.43,1027.54 721.75,1027.54 725.08,1027.54 728.40,1027.54 731.73,1027.54 735.05,1027.54 738.38,1027.54 741.70,1027.54 745.03,1027.54 748.36,1027.54 751.68,1027.54 755.01,1027.54 758.33,1027.54 761.66,1027.54 764.98,1027.54 768.31,1027.54 771.63,1027.54 774.96,1027.54 778.28,1027.54 781.61,1027.54 784.94,1027.54" fill="none" stroke="#1f77b4" stroke-width="2.08" stroke-linejoin="round"/>
<line x1="692.0" x2="692.0" y1="1145.0" y2="593.5" stroke="#1f77b4" stroke-opacity="0.56" stroke-width="2.08" stroke-dasharray="7.71 3.33"/>
<circle cx="110.5" cy="1145.5" r="4.86" fill="#ff7f0e"/>
<circle cx="133.5" cy="1145.5" r="4.86" fill="#ff7f0e"/>
<circle cx="140.5" cy="1145.5" r="4.86" fill="#ff7f0e"/>
<circle cx="153.5" cy="1145.5" r="4.86" fill="#ff7f0e"/>
<circle cx="176.5" cy="1145.5" r="4.86" fill="#ff7f0e"/>
<circle cx="206.5" cy="1145.5" r="4.86" fill="#ff7f0e"/>
<circle cx="240.5" cy="1145.5" r="4.86" fill="#ff7f0e"/>
<circle cx="250.5" cy="1145.5" r="4.86" fill="#ff7f0e"/>
<circle cx="273.5" cy="1145.5" r="4.86" fill="#ff7f0e"/>
<circle cx="276.5" cy="1145.5" r="4.86" fill="#ff7f0e"/>
<circle cx="293.5" cy="1145.5" r="4.86" fill="#ff7f0e"/>
<circle cx="313.5" cy="1145.5" r="4.86" fill="#ff7f0e"/>
<circle cx="323.5" cy="1145.5" r="4.86" fill="#ff7f0e"/>
<circle cx="333.5" cy="1145.5" r="4.86" fill="#ff7f0e"/>
<circle cx="336.5" cy="1145.5" r="4.86" fill="#ff7f0e"/>
<circle cx="343.5" cy="1145.5" r="4.86" fill="#ff7f0e"/>
<circle cx="363.5" cy="1145.5" r="4.86" fill="#ff7f0e"/>
<circle cx="376.5" cy="1145.5" r="4.86" fill="#ff7f0e"/>
<circle cx="426.5" cy="1145.5" r="4.86" fill="#ff7f0e"/>
<circle cx="432.5" cy="1145.5" r="4.86" fill="#ff7f0e"/>
<circle cx="439.5" cy="1145.5" r="4.86" fill="#ff7f0e"/>
<circle cx="446.5" cy="1145.5" r="4.86" fill="#ff7f0e"/>
<circle cx="486.5" cy="1145.5" r="4.86" fill="#ff7f0e"/>
<circle cx="496.5" cy="1145.5" r="4.86" fill="#ff7f0e"/>
<circle cx="499.5" cy="1145.5" r="4.86" fill="#ff7f0e"/>
<circle cx="526.5" cy="1145.5" r="4.86" fill="#ff7f0e"/>
<circle cx="552.5" cy="1145.5" r="4.86" fill="#ff7f0e"/>
<circle cx="575.5" cy="1145.5" r="4.86" fill="#ff7f0e"/>
<circle cx="602.5" cy="1145.5" r="4.86" fill="#ff7f0e"/>
<circle cx="655.5" cy="1145.5" r="4.86" fill="#ff7f0e"/>
<circle cx="665.5" cy="1145.5" r="4.86" fill="#ff7f0e"/>
<circle cx="672.5" cy="1145.5" r="4.86" fill="#ff7f0e"/>
<circle cx="675.5" cy="1145.5" r="4.86" fill="#ff7f0e"/>
<circle cx="685.5" cy="1145.5" r="4.86" fill="#ff7f0e"/>
<circle cx="702.5" cy="1145.5" r="4.86" fill="#ff7f0e"/>
<circle cx="718.5" cy="1145.5" r="4.86" fill="#ff7f0e"/>
<circle cx="725.5" cy="1145.5" r="4.86" fill="#ff7f0e"/>
<circle cx="137.5" cy="1028.5" r="4.86" fill="#ff7f0e"/>
<circle cx="146.5" cy="1028.5" r="4.86" fill="#ff7f0e"/>
<circle cx="190.5" cy="1028.5" r="4.86" fill="#ff7f0e"/>
<circle cx="200.5" cy="1028.5" r="4.86" fill="#ff7f0e"/>
<circle cx="203.5" cy="1028.5" r="4.86" fill="#ff7f0e"/>
<circle cx="223.5" cy="1028.5" r="4.86" fill="#ff7f0e"/>
<circle cx="260.5" cy="1028.5" r="4.86" fill="#ff7f0e"/>
<circle cx="283.5" cy="1028.5" r="4.86" fill="#ff7f0e"/>
<circle cx="289.5" cy="1028.5" r="4.86" fill="#ff7f0e"/>
<circle cx="296.5" cy="1028.5" r="4.86" fill="#ff7f0e"/>
<circle cx="306.5" cy="1028.5" r="4.86" fill="#ff7f0e"/>
<circle cx="309.5" cy="1028.5" r="4.86" fill="#ff7f0e"/>
<circle cx="396.5" cy="1028.5" r="4.86" fill="#ff7f0e"/>
<circle cx="429.5" cy="1028.5" r="4.86" fill="#ff7f0e"/>
<circle cx="476.5" cy="1028.5" r="4.86" fill="#ff7f0e"/>
<circle cx="585.5" cy="1028.5" r="4.86" fill="#ff7f0e"/>
<circle cx="589.5" cy="1028.5" r="4.86" fill="#ff7f0e"/>
<circle cx="615.5" cy="1028.5" r="4.86" fill="#ff7f0e"/>
<circle cx="619.5" cy="1028.5" r="4.86" fill="#ff7f0e"/>
<circle cx="635.5" cy="1028.5" r="4.86" fill="#ff7f0e"/>
<circle cx="652.5" cy="1028.5" r="4.86" fill="#ff7f0e"/>
<circle cx="669.5" cy="1028.5" r="4.86" fill="#ff7f0e"/>
<circle cx="722.5" cy="1028.5" r="4.86" fill="#ff7f0e"/>
<circle cx="748.5" cy="1028.5" r="4.86" fill="#ff7f0e"/>
<circle cx="758.5" cy="1028.5" r="4.86" fill="#ff7f0e"/>
<circle cx="762.5" cy="1028.5" r="4.86" fill="#ff7f0e"/>
<circle cx="196.5" cy="959.5" r="4.86" fill="#ff7f0e"/>
<circle cx="216.5" cy="959.5" r="4.86" fill="#ff7f0e"/>
<circle cx="246.5" cy="959.5" r="4.86" fill="#ff7f0e"/>
<circle cx="263.5" cy="959.5" r="4.86" fill="#ff7f0e"/>
<circle cx="326.5" cy="959.5" r="4.86" fill="#ff7f0e"/>
<circle cx="359.5" cy="959.5" r="4.86" fill="#ff7f0e"/>
<circle cx="369.5" cy="959.5" r="4.86" fill="#ff7f0e"/>
<circle cx="373.5" cy="959.5" r="4.86" fill="#ff7f0e"/>
<circle cx="379.5" cy="959.5" r="4.86" fill="#ff7f0e"/>
<circle cx="403.5" cy="959.5" r="4.86" fill="#ff7f0e"/>
<circle cx="406.5" cy="959.5" r="4.86" fill="#ff7f0e"/>
<circle cx="413.5" cy="959.5" r="4.86" fill="#ff7f0e"/>
<circle cx="449.5" cy="959.5" r="4.86" fill="#ff7f0e"/>
<circle cx="459.5" cy="959.5" r="4.86" fill="#ff7f0e"/>
<circle cx="482.5" cy="959.5" r="4.86" fill="#ff7f0e"/>
<circle cx="556.5" cy="959.5" r="4.86" fill="#ff7f0e"/>
<circle cx="566.5" cy="959.5" r="4.86" fill="#ff7f0e"/>
<circle cx="595.5" cy="959.5" r="4.86" fill="#ff7f0e"/>
<circle cx="679.5" cy="959.5" r="4.86" fill="#ff7f0e"/>
<circle cx="682.5" cy="959.5" r="4.86" fill="#ff7f0e"/>
<circle cx="712.5" cy="959.5" r="4.86" fill="#ff7f0e"/>
<circle cx="173.5" cy="910.5" r="4.86" fill="#ff7f0e"/>
<circle cx="210.5" cy="910.5" r="4.86" fill="#ff7f0e"/>
<circle cx="220.5" cy="910.5" r="4.86" fill="#ff7f0e"/>
<circle cx="236.5" cy="910.5" r="4.86" fill="#ff7f0e"/>
<circle cx="316.5" cy="910.5" r="4.86" fill="#ff7f0e"/>
<circle cx="329.5" cy="910.5" r="4.86" fill="#ff7f0e"/>
<circle cx="353.5" cy="910.5" r="4.86" fill="#ff7f0e"/>
<circle cx="393.5" cy="910.5" r="4.86" fill="#ff7f0e"/>
<circle cx="399.5" cy="910.5" r="4.86" fill="#ff7f0e"/>
<circle cx="442.5" cy="910.5" r="4.86" fill="#ff7f0e"/>
<circle cx="466.5" cy="910.5" r="4.86" fill="#ff7f0e"/>
<circle cx="472.5" cy="910.5" r="4.86" fill="#ff7f0e"/>
<circle cx="509.5" cy="910.5" r="4.86" fill="#ff7f0e"/>
<circle cx="512.5" cy="910.5" r="4.86" fill="#ff7f0e"/>
<circle cx="546.5" cy="910.5" r="4.86" fill="#ff7f0e"/>
<circle cx="582.5" cy="910.5" r="4.86" fill="#ff7f0e"/>
<circle cx="612.5" cy="910.5" r="4.86" fill="#ff7f0e"/>
<circle cx="632.5" cy="910.5" r="4.86" fill="#ff7f0e"/>
<circle cx="639.5" cy="910.5" r="4.86" fill="#ff7f0e"/>
<circle cx="659.5" cy="910.5" r="4.86" fill="#ff7f0e"/>
<circle cx="732.5" cy="910.5" r="4.86" fill="#ff7f0e"/>
<circle cx="745.5" cy="910.5" r="4.86" fill="#ff7f0e"/>
<circle cx="765.5" cy="910.5" r="4.86" fill="#ff7f0e"/>
<circle cx="778.5" cy="910.5" r="4.86" fill="#ff7f0e"/>
<circle cx="160.5" cy="872.5" r="4.86" fill="#ff7f0e"/>
<circle cx="186.5" cy="872.5" r="4.86" fill="#ff7f0e"/>
<circle cx="270.5" cy="872.5" r="4.86" fill="#ff7f0e"/>
<circle cx="280.5" cy="872.5" r="4.86" fill="#ff7f0e"/>
<circle cx="339.5" cy="872.5" r="4.86" fill="#ff7f0e"/>
<circle cx="419.5" cy="872.5" r="4.86" fill="#ff7f0e"/>
<circle cx="452.5" cy="872.5" r="4.86" fill="#ff7f0e"/>
<circle cx="479.5" cy="872.5" r="4.86" fill="#ff7f0e"/>
<circle cx="536.5" cy="872.5" r="4.86" fill="#ff7f0e"/>
<circle cx="569.5" cy="872.5" r="4.86" fill="#ff7f0e"/>
<circle cx="605.5" cy="872.5" r="4.86" fill="#ff7f0e"/>
<circle cx="625.5" cy="872.5" r="4.86" fill="#ff7f0e"/>
<circle cx="662.5" cy="872.5" r="4.86" fill="#ff7f0e"/>
<circle cx="738.5" cy="872.5" r="4.86" fill="#ff7f0e"/>
<circle cx="775.5" cy="872.5" r="4.86" fill="#ff7f0e"/>
<circle cx="782.5" cy="872.5" r="4.86" fill="#ff7f0e"/>
<circle cx="256.5" cy="841.5" r="4.86" fill="#ff7f0e"/>
<circle cx="462.5" cy="841.5" r="4.86" fill="#ff7f0e"/>
<circle cx="522.5" cy="841.5" r="4.86" fill="#ff7f0e"/>
<circle cx="539.5" cy="841.5" r="4.86" fill="#ff7f0e"/>
<circle cx="549.5" cy="841.5" r="4.86" fill="#ff7f0e"/>
<circle cx="562.5" cy="841.5" r="4.86" fill="#ff7f0e"/>
<circle cx="768.5" cy="841.5" r="4.86" fill="#ff7f0e"/>
<circle cx="469.5" cy="815.5" r="4.86" fill="#ff7f0e"/>
<circle cx="492.5" cy="815.5" r="4.86" fill="#ff7f0e"/>
<circle cx="519.5" cy="815.5" r="4.86" fill="#ff7f0e"/>
<circle cx="532.5" cy="815.5" r="4.86" fill="#ff7f0e"/>
<circle cx="559.5" cy="815.5" r="4.86" fill="#ff7f0e"/>
<circle cx="592.5" cy="815.5" r="4.86" fill="#ff7f0e"/>
<circle cx="629.5" cy="815.5" r="4.86" fill="#ff7f0e"/>
<circle cx="785.5" cy="815.5" r="4.86" fill="#ff7f0e"/>
<circle cx="303.5" cy="793.5" r="4.86" fill="#ff7f0e"/>
<circle cx="383.5" cy="793.5" r="4.86" fill="#ff7f0e"/>
<circle cx="502.5" cy="793.5" r="4.86" fill="#ff7f0e"/>
<circle cx="542.5" cy="793.5" r="4.86" fill="#ff7f0e"/>
<circle cx="609.5" cy="793.5" r="4.86" fill="#ff7f0e"/>
<circle cx="772.5" cy="793.5" r="4.86" fill="#ff7f0e"/>
<circle cx="516.5" cy="773.5" r="4.86" fill="#ff7f0e"/>
<circle cx="579.5" cy="773.5" r="4.86" fill="#ff7f0e"/>
<circle cx="489.5" cy="755.5" r="4.86" fill="#ff7f0e"/>
<circle cx="755.5" cy="686.5" r="4.86" fill="#ff7f0e"/>
</g>
<rect x="50.5" y="15.5" width="735.0" height="552.0" fill="none" stroke="#000" stroke-width="1.11"/>
<line x1="50.50" x2="50.50" y1="567.5" y2="572.36" stroke="#000" stroke-width="1.11"/>
<line x1="143.50" x2="143.50" y1="567.5" y2="572.36" stroke="#000" stroke-width="1.11"/>
<line x1="243.50" x2="243.50" y1="567.5" y2="572.36" stroke="#000" stroke-width="1.11"/>
<line x1="346.50" x2="346.50" y1="567.5" y2="572.36" stroke="#000" stroke-width="1.11"/>
<line x1="446.50" x2="446.50" y1="567.5" y2="572.36" stroke="#000" stroke-width="1.11"/>
<line x1="549.50" x2="549.50" y1="567.5" y2="572.36" stroke="#000" stroke-width="1.11"/>
<line x1="652.50" x2="652.50" y1="567.5" y2="572.36" stroke="#000" stroke-width="1.11"/>
<line x1="752.50" x2="752.50" y1="567.5" y2="572.36" stroke="#000" stroke-width="1.11"/>
<line x1="785.50" x2="785.50" y1="567.5" y2="572.36" stroke="#000" stroke-width="1.11"/>
<line x1="67.50" x2="67.50" y1="567.5" y2="570.28" stroke="#000" stroke-width="0.83"/>
<line x1="90.50" x2="90.50" y1="567.5" y2="570.28" stroke="#000" stroke-width="0.83"/>
<line x1="113.50" x2="113.50" y1="567.5" y2="570.28" stroke="#000" stroke-width="0.83"/>
<line x1="137.50" x2="137.50" y1="567.5" y2="570.28" stroke="#000" stroke-width="0.83"/>
<line x1="160.50" x2="160.50" y1="567.5" y2="570.28" stroke="#000" stroke-width="0.83"/>
<line x1="183.50" x2="183.50" y1="567.5" y2="570.28" stroke="#000" stroke-width="0.83"/>
<line x1="206.50" x2="206.50" y1="567.5" y2="570.28" stroke="#000" stroke-width="0.83"/>
<line x1="230.50" x2="230.50" y1="567.5" y2="570.28" stroke="#000" stroke-width="0.83"/>
<line x1="253.50" x2="253.50" y1="567.5" y2="570.28" stroke="#000" stroke-width="0.83"/>
<line x1="276.50" x2="276.50" y1="567.5" y2="570.28" stroke="#000" stroke-width="0.83"/>
<line x1="299.50" x2="299.50" y1="567.5" y2="570.28" stroke="#000" stroke-width="0.83"/>
<line x1="323.50" x2="323.50" y1="567.5" y2="570.28" stroke="#000" stroke-width="0.83"/>
<line x1="346.50" x2="346.50" y1="567.5" y2="570.28" stroke="#000" stroke-width="0.83"/>
<line x1="369.50" x2="369.50" y1="567.5" y2="570.28" stroke="#000" stroke-width="0.83"/>
<line x1="393.50" x2="393.50" y1="567.5" y2="570.28" stroke="#000" stroke-width="0.83"/>
<line x1="416.50" x2="416.50" y1="567.5" y2="570.28" stroke="#000" stroke-width="0.83"/>
<line x1="439.50" x2="439.50" y1="567.5" y2="570.28" stroke="#000" stroke-width="0.83"/>
<line x1="462.50" x2="462.50" y1="567.5" y2="570.28" stroke="#000" stroke-width="0.83"/>
<line x1="486.50" x2="486.50" y1="567.5" y2="570.28" stroke="#000" stroke-width="0.83"/>
<line x1="509.50" x2="509.50" y1="567.5" y2="570.28" stroke="#000" stroke-width="0.83"/>
<line x1="532.50" x2="532.50" y1="567.5" y2="570.28" stroke="#000" stroke-width="0.83"/>
<line x1="556.50" x2="556.50" y1="567.5" y2="570.28" stroke="#000" stroke-width="0.83"/>
<line x1="579.50" x2="579.50" y1="567.5" y2="570.28" stroke="#000" stroke-width="0.83"/>
<line x1="602.50" x2="602.50" y1="567.5" y2="570.28" stroke="#000" stroke-width="0.83"/>
<line x1="625.50" x2="625.50" y1="567.5" y2="570.28" stroke="#000" stroke-width="0.83"/>
<line x1="649.50" x2="649.50" y1="567.5" y2="570.28" stroke="#000" stroke-width="0.83"/>
<line x1="672.50" x2="672.50" y1="567.5" y2="570.28" stroke="#000" stroke-width="0.83"/>
<line x1="695.50" x2="695.50" y1="567.5" y2="570.28" stroke="#000" stroke-width="0.83"/>
<line x1="718.50" x2="718.50" y1="567.5" y2="570.28" stroke="#000" stroke-width="0.83"/>
<line x1="742.50" x2="742.50" y1="567.5" y2="570.28" stroke="#000" stroke-width="0.83"/>
<line x1="765.50" x2="765.50" y1="567.5" y2="570.28" stroke="#000" stroke-width="0.83"/>
<rect x="50.5" y="593.5" width="735.0" height="552.0" fill="none" stroke="#000" stroke-width="1.11"/>
<line x1="50.50" x2="50.50" y1="1145.5" y2="1150.36" stroke="#000" stroke-width="1.11"/>
<line x1="143.50" x2="143.50" y1="1145.5" y2="1150.36" stroke="#000" stroke-width="1.11"/>
<line x1="243.50" x2="243.50" y1="1145.5" y2="1150.36" stroke="#000" stroke-width="1.11"/>
<line x1="346.50" x2="346.50" y1="1145.5" y2="1150.36" stroke="#000" stroke-width="1.11"/>
<line x1="446.50" x2="446.50" y1="1145.5" y2="1150.36" stroke="#000" stroke-width="1.11"/>
<line x1="549.50" x2="549.50" y1="1145.5" y2="1150.36" stroke="#000" stroke-width="1.11"/>
<line x1="652.50" x2="652.50" y1="1145.5" y2="1150.36" stroke="#000" stroke-width="1.11"/>
<line x1="752.50" x2="752.50" y1="1145.5" y2="1150.36" stroke="#000" stroke-width="1.11"/>
<line x1="785.50" x2="785.50" y1="1145.5" y2="1150.36" stroke="#000" stroke-width="1.11"/>
<line x1="67.50" x2="67.50" y1="1145.5" y2="1148.28" stroke="#000" stroke-width="0.83"/>
<line x1="90.50" x2="90.50" y1="1145.5" y2="1148.28" stroke="#000" stroke-width="0.83"/>
<line x1="113.50" x2="113.50" y1="1145.5" y2="1148.28" stroke="#000" stroke-width="0.83"/>
<line x1="137.50" x2="137.50" y1="1145.5" y2="1148.28" stroke="#000" stroke-width="0.83"/>
<line x1="160.50" x2="160.50" y1="1145.5" y2="1148.28" stroke="#000" stroke-width="0.83"/>
<line x1="183.50" x2="183.50" y1="1145.5" y2="1148.28" stroke="#000" stroke-width="0.83"/>
<line x1="206.50" x2="206.50" y1="1145.5" y2="1148.28" stroke="#000" stroke-width="0.83"/>
<line x1="230.50" x2="230.50" y1="1145.5" y2="1148.28" stroke="#000" stroke-width="0.83"/>
<line x1="253.50" x2="253.50" y1="1145.5" y2="1148.28" stroke="#000" stroke-width="0.83"/>
<line x1="276.50" x2="276.50" y1="1145.5" y2="1148.28" stroke="#000" stroke-width="0.83"/>
<line x1="299.50" x2="299.50" y1="1145.5" y2="1148.28" stroke="#000" stroke-width="0.83"/>
<line x1="323.50" x2="323.50" y1="1145.5" y2="1148.28" stroke="#000" stroke-width="0.83"/>
<line x1="346.50" x2="346.50" y1="1145.5" y2="1148.28" stroke="#000" stroke-width="0.83"/>
<line x1="369.50" x2="369.50" y1="1145.5" y2="1148.28" stroke="#000" stroke-width="0.83"/>
<line x1="393.50" x2="393.50" y1="1145.5" y2="1148.28" stroke="#000" stroke-width="0.83"/>
<line x1="416.50" x2="416.50" y1="1145.5" y2="1148.28" stroke="#000" stroke-width="0.83"/>
<line x1="439.50" x2="439.50" y1="1145.5" y2="1148.28" stroke="#000" stroke-width="0.83"/>
<line x1="462.50" x2="462.50" y1="1145.5" y2="1148.28" stroke="#000" stroke-width="0.83"/>
<line x1="486.50" x2="486.50" y1="1145.5" y2="1148.28" stroke="#000" stroke-width="0.83"/>
<line x1="509.50" x2="509.50" y1="1145.5" y2="1148.28" stroke="#000" stroke-width="0.83"/>
<line x1="532.50" x2="532.50" y1="1145.5" y2="1148.28" stroke="#000" stroke-width="0.83"/>
<line x1="556.50" x2="556.50" y1="1145.5" y2="1148.28" stroke="#000" stroke-width="0.83"/>
<line x1="579.50" x2="579.50" y1="1145.5" y2="1148.28" stroke="#000" stroke-width="0.83"/>
<line x1="602.50" x2="602.50" y1="1145.5" y2="1148.28" stroke="#000" stroke-width="0.83"/>
<line x1="625.50" x2="625.50" y1="1145.5" y2="1148.28" stroke="#000" stroke-width="0.83"/>
<line x1="649.50" x2="649.50" y1="1145.5" y2="1148.28" stroke="#000" stroke-width="0.83"/>
<line x1="672.50" x2="672.50" y1="1145.5" y2="1148.28" stroke="#000" stroke-width="0.83"/>
<line x1="695.50" x2="695.50" y1="1145.5" y2="1148.28" stroke="#000" stroke-width="0.83"/>
<line x1="718.50" x2="718.50" y1="1145.5" y2="1148.28" stroke="#000" stroke-width="0.83"/>
<line x1="742.50" x2="742.50" y1="1145.5" y2="1148.28" stroke="#000" stroke-width="0.83"/>
<line x1="765.50" x2="765.50" y1="1145.5" y2="1148.28" stroke="#000" stroke-width="0.83"/>
<line x1="45.64" x2="50.5" y1="567.50" y2="567.50" stroke="#000" stroke-width="1.11"/>
<line x1="47.72" x2="50.5" y1="516.50" y2="516.50" stroke="#000" stroke-width="0.83"/>
<line x1="47.72" x2="50.5" y1="486.50" y2="486.50" stroke="#000" stroke-width="0.83"/>
<line x1="47.72" x2="50.5" y1="465.50" y2="465.50" stroke="#000" stroke-width="0.83"/>
<line x1="47.72" x2="50.5" y1="448.50" y2="448.50" stroke="#000" stroke-width="0.83"/>
<line x1="47.72" x2="50.5" y1="435.50" y2="435.50" stroke="#000" stroke-width="0.83"/>
<line x1="47.72" x2="50.5" y1="423.50" y2="423.50" stroke="#000" stroke-width="0.83"/>
<line x1="47.72" x2="50.5" y1="413.50" y2="413.50" stroke="#000" stroke-width="0.83"/>
<line x1="47.72" x2="50.5" y1="405.50" y2="405.50" stroke="#000" stroke-width="0.83"/>
<line x1="45.64" x2="50.5" y1="397.50" y2="397.50" stroke="#000" stroke-width="1.11"/>
<line x1="47.72" x2="50.5" y1="346.50" y2="346.50" stroke="#000" stroke-width="0.83"/>
<line x1="47.72" x2="50.5" y1="316.50" y2="316.50" stroke="#000" stroke-width="0.83"/>
<line x1="47.72" x2="50.5" y1="294.50" y2="294.50" stroke="#000" stroke-width="0.83"/>
<line x1="47.72" x2="50.5" y1="278.50" y2="278.50" stroke="#000" stroke-width="0.83"/>
<line x1="47.72" x2="50.5" y1="264.50" y2="264.50" stroke="#000" stroke-width="0.83"/>
<line x1="47.72" x2="50.5" y1="253.50" y2="253.50" stroke="#000" stroke-width="0.83"/>
<line x1="47.72" x2="50.5" y1="243.50" y2="243.50" stroke="#000" stroke-width="0.83"/>
<line x1="47.72" x2="50.5" y1="234.50" y2="234.50" stroke="#000" stroke-width="0.83"/>
<line x1="45.64" x2="50.5" y1="227.50" y2="227.50" stroke="#000" stroke-width="1.11"/>
<line x1="47.72" x2="50.5" y1="175.50" y2="175.50" stroke="#000" stroke-width="0.83"/>
<line x1="47.72" x2="50.5" y1="145.50" y2="145.50" stroke="#000" stroke-width="0.83"/>
<line x1="47.72" x2="50.5" y1="124.50" y2="124.50" stroke="#000" stroke-width="0.83"/>
<line x1="47.72" x2="50.5" y1="108.50" y2="108.50" stroke="#000" stroke-width="0.83"/>
<line x1="47.72" x2="50.5" y1="94.50" y2="94.50" stroke="#000" stroke-width="0.83"/>
<line x1="47.72" x2="50.5" y1="83.50" y2="83.50" stroke="#000" stroke-width="0.83"/>
<line x1="47.72" x2="50.5" y1="73.50" y2="73.50" stroke="#000" stroke-width="0.83"/>
<line x1="47.72" x2="50.5" y1="64.50" y2="64.50" stroke="#000" stroke-width="0.83"/>
<line x1="45.64" x2="50.5" y1="56.50" y2="56.50" stroke="#000" stroke-width="1.11"/>
<line x1="45.64" x2="50.5" y1="1145.50" y2="1145.50" stroke="#000" stroke-width="1.11"/>
<line x1="47.72" x2="50.5" y1="1028.50" y2="1028.50" stroke="#000" stroke-width="0.83"/>
<line x1="47.72" x2="50.5" y1="959.50" y2="959.50" stroke="#000" stroke-width="0.83"/>
<line x1="47.72" x2="50.5" y1="910.50" y2="910.50" stroke="#000" stroke-width="0.83"/>
<line x1="47.72" x2="50.5" y1="872.50" y2="872.50" stroke="#000" stroke-width="0.83"/>
<line x1="47.72" x2="50.5" y1="841.50" y2="841.50" stroke="#000" stroke-width="0.83"/>
<line x1="47.72" x2="50.5" y1="815.50" y2="815.50" stroke="#000" stroke-width="0.83"/>
<line x1="47.72" x2="50.5" y1="793.50" y2="793.50" stroke="#000" stroke-width="0.83"/>
<line x1="47.72" x2="50.5" y1="773.50" y2="773.50" stroke="#000" stroke-width="0.83"/>
<line x1="45.64" x2="50.5" y1="755.50" y2="755.50" stroke="#000" stroke-width="1.11"/>
<line x1="47.72" x2="50.5" y1="637.50" y2="637.50" stroke="#000" stroke-width="0.83"/>
<g style="filter:grayscale(1)">
<text x="16.4" y="573.30" font-size="14.4" textLength="17.7" lengthAdjust="spacingAndGlyphs">10</text>
<text x="33.9" y="569.00" font-size="10.3" textLength="6.1" lengthAdjust="spacingAndGlyphs">0</text>
<text x="16.4" y="403.10" font-size="14.4" textLength="17.7" lengthAdjust="spacingAndGlyphs">10</text>
<text x="33.9" y="398.80" font-size="10.3" textLength="6.1" lengthAdjust="spacingAndGlyphs">1</text>
<text x="16.4" y="232.90" font-size="14.4" textLength="17.7" lengthAdjust="spacingAndGlyphs">10</text>
<text x="33.9" y="228.60" font-size="10.3" textLength="6.1" lengthAdjust="spacingAndGlyphs">2</text>
<text x="16.4" y="62.70" font-size="14.4" textLength="17.7" lengthAdjust="spacingAndGlyphs">10</text>
<text x="33.9" y="58.40" font-size="10.3" textLength="6.1" lengthAdjust="spacingAndGlyphs">3</text>
<text x="16.4" y="1151.30" font-size="14.4" textLength="17.7" lengthAdjust="spacingAndGlyphs">10</text>
<text x="33.9" y="1147.00" font-size="10.3" textLength="6.1" lengthAdjust="spacingAndGlyphs">0</text>
<text x="16.4" y="761.10" font-size="14.4" textLength="17.7" lengthAdjust="spacingAndGlyphs">10</text>
<text x="33.9" y="756.80" font-size="10.3" textLength="6.1" lengthAdjust="spacingAndGlyphs">1</text>
<text x="130.77" y="1165.80" font-size="14.4" textLength="24.0" lengthAdjust="spacingAndGlyphs">Apr</text>
<text x="228.18" y="1165.80" font-size="14.4" textLength="28.7" lengthAdjust="spacingAndGlyphs">May</text>
<text x="334.77" y="1165.80" font-size="14.4" textLength="21.7" lengthAdjust="spacingAndGlyphs">Jun</text>
<text x="436.99" y="1165.80" font-size="14.4" textLength="16.8" lengthAdjust="spacingAndGlyphs">Jul</text>
<text x="534.93" y="1165.80" font-size="14.4" textLength="27.1" lengthAdjust="spacingAndGlyphs">Aug</text>
<text x="638.47" y="1165.80" font-size="14.4" textLength="26.2" lengthAdjust="spacingAndGlyphs">Sep</text>
<text x="739.34" y="1165.80" font-size="14.4" textLength="24.0" lengthAdjust="spacingAndGlyphs">Oct</text>
<text x="125.32" y="1181.80" font-size="14.4" textLength="35.3" lengthAdjust="spacingAndGlyphs">2020</text>
<text x="341.55" y="35.80" font-size="16.67" textLength="111.5" lengthAdjust="spacingAndGlyphs">Utah 28 days</text>
</g><rect x="57.2" y="22.3" width="158.3" height="25.2" rx="2.8" ry="2.8" fill="#fff" fill-opacity="0.8" stroke="#ccc" stroke-width="1.11"/>
<line x1="62.400000000000006" x2="90.5" y1="34" y2="34" stroke="#1f77b4" stroke-width="2.08"/><g style="filter:grayscale(1)">
<text x="101.0" y="38.6" font-size="14.4" textLength="108.6" lengthAdjust="spacingAndGlyphs">daily confirmed</text>
</g><rect x="57.2" y="600.5" width="135.4" height="25.0" rx="2.8" ry="2.8" fill="#fff" fill-opacity="0.8" stroke="#ccc" stroke-width="1.11"/>
<line x1="62.400000000000006" x2="90.5" y1="612" y2="612" stroke="#1f77b4" stroke-width="2.08"/><g style="filter:grayscale(1)">
<text x="101.0" y="616.8" font-size="14.4" textLength="84.9" lengthAdjust="spacingAndGlyphs">daily deaths</text>
</g>
</svg>
</body></html>
